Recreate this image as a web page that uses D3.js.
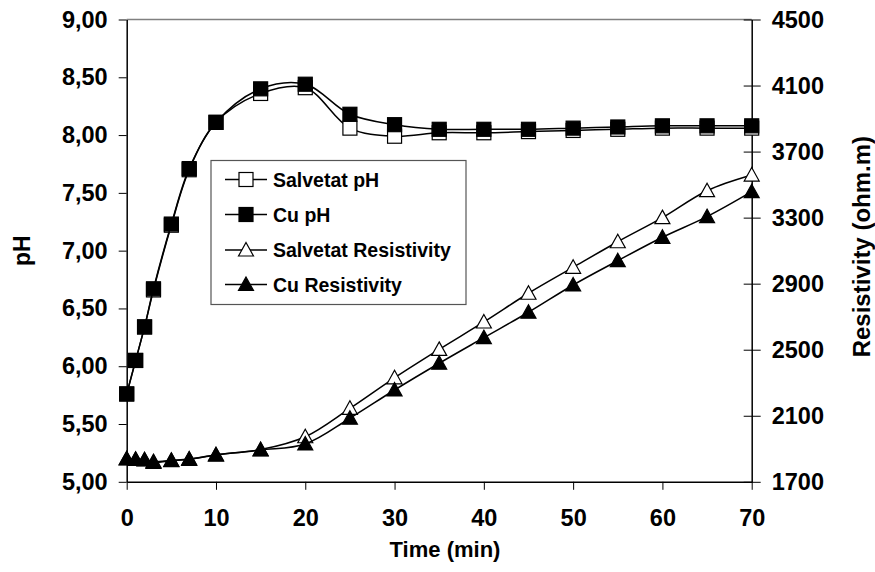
<!DOCTYPE html>
<html><head><meta charset="utf-8">
<script src="https://cdn.jsdelivr.net/npm/d3@7"></script>
<style>body{margin:0;background:#fff}svg{display:block;font-family:"Liberation Sans",Arial,sans-serif;font-weight:bold}</style>
</head><body><svg id="c" width="875" height="572"></svg>
<script>
const timePH = [0,1,2,3,5,7,10,15,20,25,30,35,40,45,50,55,60,65,70];
const salvetatPH = [5.76,6.05,6.34,6.66,7.22,7.70,8.11,8.36,8.41,8.06,7.99,8.02,8.02,8.03,8.04,8.05,8.06,8.06,8.06];
const cuPH = [5.76,6.05,6.34,6.67,7.23,7.71,8.11,8.40,8.44,8.18,8.09,8.05,8.05,8.05,8.06,8.07,8.08,8.08,8.08];
const salvetatRes = [1840,1836,1834,1822,1830,1838,1864,1895,1973,2145,2330,2502,2668,2842,2999,3154,3300,3463,3558];
const cuRes = [1838,1835,1832,1818,1828,1836,1862,1893,1929,2085,2256,2418,2573,2727,2892,3039,3181,3306,3457];
const xTicks = [0,10,20,30,40,50,60,70];
const phTicks = [5,5.5,6,6.5,7,7.5,8,8.5,9];
const resTicks = [1700,2100,2500,2900,3300,3700,4100,4500];
const legendLabels = ["Salvetat pH","Cu pH","Salvetat Resistivity","Cu Resistivity"];

const L=126.7, R=751.7, T=19.5, B=481.8;
const svg=d3.select("#c");
const x=d3.scaleLinear().domain([0,70]).range([L,R]);
const yL=d3.scaleLinear().domain([5,9]).range([B,T]);
const yR=d3.scaleLinear().domain([1700,4500]).range([B,T]);
const fmt=d=>d3.format(".2f")(d).replace(".",",");

// top border
svg.append("line").attr("x1",L).attr("x2",R).attr("y1",T).attr("y2",T).attr("stroke","#808080").attr("stroke-width",1.3);

const ax=svg.append("g").attr("transform",`translate(0,${B})`).call(d3.axisBottom(x).tickValues(xTicks).tickSize(8).tickSizeOuter(0).tickPadding(20));
const ayl=svg.append("g").attr("transform",`translate(${L},0)`).call(d3.axisLeft(yL).tickValues(phTicks).tickFormat(fmt).tickSize(8).tickSizeOuter(0).tickPadding(11));
const ayr=svg.append("g").attr("transform",`translate(${R},0)`).call(d3.axisRight(yR).tickValues(resTicks).tickFormat(d3.format("d")).tickSize(9).tickSizeOuter(0).tickPadding(11));
ayr.selectAll(".tick line").attr("x1",-8);
[ax,ayl,ayr].forEach(g=>{g.selectAll("path").attr("stroke","#000").attr("stroke-width",1.5);
 g.selectAll("line").attr("stroke","#000").attr("stroke-width",1);
 g.selectAll("text").attr("font-size",23.5).attr("font-family","Liberation Sans, Arial, sans-serif").attr("font-weight","bold").attr("fill","#000");});

svg.append("text").attr("x",445).attr("y",557).attr("text-anchor","middle").attr("font-size",22).text("Time (min)");
svg.append("text").attr("transform",`translate(30,${(T+B)/2}) rotate(-90)`).attr("text-anchor","middle").attr("font-size",23).text("pH");
svg.append("text").attr("transform",`translate(870,${(T+B)/2 - 4}) rotate(-90)`).attr("text-anchor","middle").attr("font-size",24).text("Resistivity (ohm.m)");

const curve=d3.curveCatmullRom.alpha(0.5);
const series=[
 {v:salvetatPH,y:yL,shape:"sq",fill:"#fff"},
 {v:cuPH,y:yL,shape:"sq",fill:"#000"},
 {v:salvetatRes,y:yR,shape:"tri",fill:"#fff"},
 {v:cuRes,y:yR,shape:"tri",fill:"#000"}];
function marker(g,cx,cy,s){
  if(s.shape==="sq") g.append("rect").attr("x",cx-7).attr("y",cy-7).attr("width",14).attr("height",14).attr("fill",s.fill).attr("stroke","#000").attr("stroke-width",1.2);
  else g.append("path").attr("d",`M${cx},${cy-7.5}L${cx+7.5},${cy+6}L${cx-7.5},${cy+6}Z`).attr("fill",s.fill).attr("stroke","#000").attr("stroke-width",1.2);
}
series.forEach(s=>{
  const g=svg.append("g");
  g.append("path").datum(timePH.map((t,i)=>[t,s.v[i]])).attr("fill","none").attr("stroke","#000").attr("stroke-width",1.5)
   .attr("d",d3.line().x(d=>x(d[0])).y(d=>s.y(d[1])).curve(curve));
  timePH.forEach((t,i)=>marker(g,x(t),s.y(s.v[i]),s));
});

// legend
const lg=svg.append("g");
lg.append("rect").attr("x",211).attr("y",160.5).attr("width",255).attr("height",144).attr("fill","#fff").attr("stroke","#555").attr("stroke-width",1.2);
const ly=[179.5,214.5,250,284.5];
series.forEach((s,i)=>{
  lg.append("line").attr("x1",225).attr("x2",267).attr("y1",ly[i]).attr("y2",ly[i]).attr("stroke","#000").attr("stroke-width",1.5);
  marker(lg,246,ly[i],s);
  lg.append("text").attr("x",273).attr("y",ly[i]).attr("dy","0.36em").attr("font-size",19.5).text(legendLabels[i]);
});
</script></body></html>
